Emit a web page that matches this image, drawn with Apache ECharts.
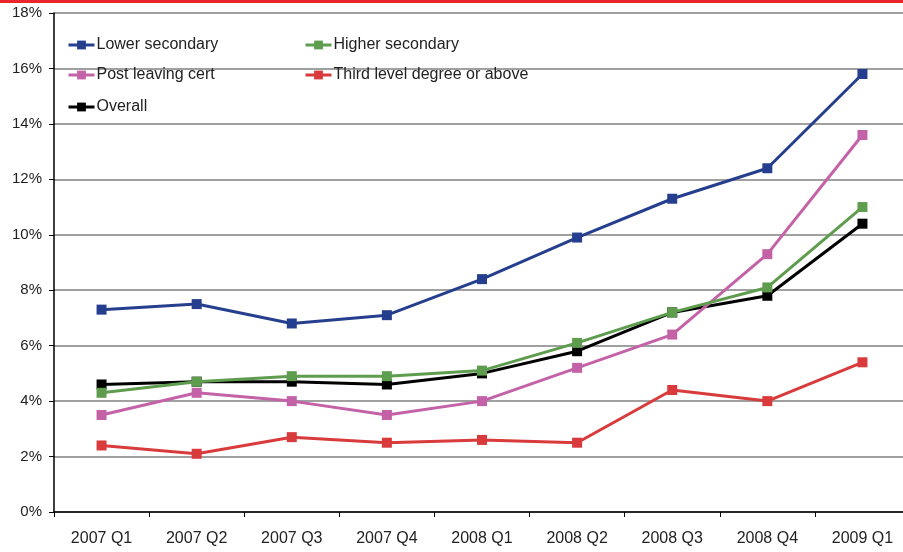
<!DOCTYPE html>
<html>
<head>
<meta charset="utf-8">
<script src="https://cdn.jsdelivr.net/npm/echarts@6/dist/echarts.min.js"></script>
<style>
html, body { margin: 0; padding: 0; background: #fff; overflow: hidden; }
#chart { width: 910px; height: 552px; }
</style>
</head>
<body>
<div id="chart"></div>
<script>
var categories = ['2007 Q1', '2007 Q2', '2007 Q3', '2007 Q4', '2008 Q1', '2008 Q2', '2008 Q3', '2008 Q4', '2009 Q1'];
var lowerSecondary = [7.3, 7.5, 6.8, 7.1, 8.4, 9.9, 11.3, 12.4, 15.8];
var higherSecondary = [4.3, 4.7, 4.9, 4.9, 5.1, 6.1, 7.2, 8.1, 11.0];
var postLeavingCert = [3.5, 4.3, 4.0, 3.5, 4.0, 5.2, 6.4, 9.3, 13.6];
var thirdLevel = [2.4, 2.1, 2.7, 2.5, 2.6, 2.5, 4.4, 4.0, 5.4];
var overall = [4.6, 4.7, 4.7, 4.6, 5.0, 5.8, 7.2, 7.8, 10.4];

var names = ['Lower secondary', 'Higher secondary', 'Post leaving cert', 'Third level degree or above', 'Overall'];
var colors = ['#253F8E', '#5E9D4E', '#C462A8', '#D93A3B', '#000000'];
var values = [lowerSecondary, higherSecondary, postLeavingCert, thirdLevel, overall];
var legendPos = [[67, 37], [304, 37], [67, 67], [304, 67], [67, 99]];

var myChart = echarts.init(document.getElementById('chart'));

var series = [];
var legends = [];
for (var i = 0; i < names.length; i++) {
    series.push({
        name: names[i],
        type: 'line',
        data: values[i],
        symbol: 'rect',
        symbolSize: 10,
        color: colors[i],
        lineStyle: { width: 3, color: colors[i] },
        itemStyle: { color: colors[i] },
        z: 10 - i
    });
    legends.push({
        data: [names[i]],
        left: legendPos[i][0],
        top: legendPos[i][1],
        padding: 0,
        itemWidth: 26,
        itemHeight: 11,
        itemGap: 2,
        lineStyle: { width: 3 },
        textStyle: { fontFamily: 'Liberation Sans', fontSize: 16, color: '#222', padding: [0, 0, 0, -3] }
    });
}

var option = {
    animation: false,
    backgroundColor: '#fff',
    graphic: [{
        type: 'rect',
        shape: { x: 0, y: 0, width: 910, height: 3 },
        style: { fill: '#E8262B' }
    }],
    legend: legends,
    grid: {
        left: 54,
        right: 0,
        top: 13,
        bottom: 40,
        containLabel: false
    },
    xAxis: {
        type: 'category',
        data: categories,
        boundaryGap: true,
        axisLine: { lineStyle: { color: '#000', width: 1.5 } },
        axisTick: { show: true, length: 5, lineStyle: { color: '#000' } },
        axisLabel: { fontFamily: 'Liberation Sans', fontSize: 16, color: '#222', margin: 19 },
        splitLine: { show: false }
    },
    yAxis: {
        type: 'value',
        min: 0,
        max: 18,
        interval: 2,
        axisLine: { show: true, lineStyle: { color: '#000', width: 1.5 } },
        axisTick: { show: true, length: 5, lineStyle: { color: '#000' } },
        axisLabel: {
            fontFamily: 'Liberation Sans', fontSize: 15, color: '#222', margin: 12,
            formatter: '{value}%'
        },
        splitLine: { show: true, lineStyle: { color: '#808080', width: 1.5 } }
    },
    series: series
};

myChart.setOption(option);
window.onresize = function () {
    myChart.resize();
};
</script>
</body>
</html>
